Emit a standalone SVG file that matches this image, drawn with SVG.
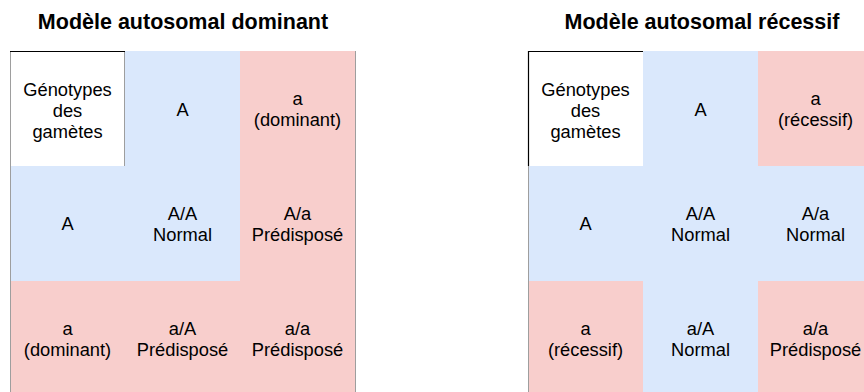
<svg xmlns="http://www.w3.org/2000/svg" width="864" height="392" viewBox="0 0 864 392">
  <style>
    .title { font-family: "Liberation Sans", Arial, sans-serif; font-size: 21.5px; font-weight: bold; fill: #000; text-anchor: middle; }
    .lbl { font-family: "Liberation Sans", Arial, sans-serif; font-size: 18.3px; fill: #000; text-anchor: middle; }
    .blue { fill: #dae8fc; }
    .pink { fill: #f8cecc; }
    .head { fill: #ffffff; }
    .edge { fill: none; stroke: #9e9e9e; stroke-width: 1; }
    .dark { fill: none; stroke: #000; stroke-width: 1.2; }
  </style>
  <rect width="864" height="392" fill="#ffffff"/>

  <!-- Dominant model -->
  <text class="title" x="183" y="29">Modèle autosomal dominant</text>
  <g id="dom-grid">
    <g id="dom-head">
      <rect class="head" x="10" y="51" width="115" height="115"/>
      <text class="lbl" x="67.5" y="96">Génotypes</text>
      <text class="lbl" x="67.5" y="117">des</text>
      <text class="lbl" x="67.5" y="138">gamètes</text>
    </g>
    <g id="dom-col-A">
      <rect class="blue" x="125" y="51" width="115" height="115"/>
      <text class="lbl" x="182.5" y="116">A</text>
    </g>
    <g id="dom-col-a">
      <rect class="pink" x="240" y="51" width="115" height="115"/>
      <text class="lbl" x="297.5" y="105">a</text>
      <text class="lbl" x="297.5" y="126">(dominant)</text>
    </g>
    <g id="dom-row-A">
      <rect class="blue" x="10" y="166" width="115" height="115"/>
      <text class="lbl" x="67.5" y="230">A</text>
    </g>
    <g id="dom-AA">
      <rect class="blue" x="125" y="166" width="115" height="115"/>
      <text class="lbl" x="182.5" y="220">A/A</text>
      <text class="lbl" x="182.5" y="241">Normal</text>
    </g>
    <g id="dom-Aa">
      <rect class="pink" x="240" y="166" width="115" height="115"/>
      <text class="lbl" x="297.5" y="220">A/a</text>
      <text class="lbl" x="297.5" y="241">Prédisposé</text>
    </g>
    <g id="dom-row-a">
      <rect class="pink" x="10" y="281" width="115" height="115"/>
      <text class="lbl" x="67.5" y="335">a</text>
      <text class="lbl" x="67.5" y="356">(dominant)</text>
    </g>
    <g id="dom-aA">
      <rect class="pink" x="125" y="281" width="115" height="115"/>
      <text class="lbl" x="182.5" y="335">a/A</text>
      <text class="lbl" x="182.5" y="356">Prédisposé</text>
    </g>
    <g id="dom-aa">
      <rect class="pink" x="240" y="281" width="115" height="115"/>
      <text class="lbl" x="297.5" y="335">a/a</text>
      <text class="lbl" x="297.5" y="356">Prédisposé</text>
    </g>
    <!-- frame -->
    <path class="edge" d="M10.5 51 V396 M355.5 51 V396 M124.5 51.5 V166"/>
    <path class="dark" d="M10 51.5 H125"/>
  </g>

  <!-- Recessive model -->
  <text class="title" x="702" y="29">Modèle autosomal récessif</text>
  <g id="rec-grid">
    <g id="rec-head">
      <rect class="head" x="528" y="51" width="115" height="115"/>
      <text class="lbl" x="585.5" y="96">Génotypes</text>
      <text class="lbl" x="585.5" y="117">des</text>
      <text class="lbl" x="585.5" y="138">gamètes</text>
    </g>
    <g id="rec-col-A">
      <rect class="blue" x="643" y="51" width="115" height="115"/>
      <text class="lbl" x="700.5" y="116">A</text>
    </g>
    <g id="rec-col-a">
      <rect class="pink" x="758" y="51" width="115" height="115"/>
      <text class="lbl" x="815.5" y="105">a</text>
      <text class="lbl" x="815.5" y="126">(récessif)</text>
    </g>
    <g id="rec-row-A">
      <rect class="blue" x="528" y="166" width="115" height="115"/>
      <text class="lbl" x="585.5" y="230">A</text>
    </g>
    <g id="rec-AA">
      <rect class="blue" x="643" y="166" width="115" height="115"/>
      <text class="lbl" x="700.5" y="220">A/A</text>
      <text class="lbl" x="700.5" y="241">Normal</text>
    </g>
    <g id="rec-Aa">
      <rect class="blue" x="758" y="166" width="115" height="115"/>
      <text class="lbl" x="815.5" y="220">A/a</text>
      <text class="lbl" x="815.5" y="241">Normal</text>
    </g>
    <g id="rec-row-a">
      <rect class="pink" x="528" y="281" width="115" height="115"/>
      <text class="lbl" x="585.5" y="335">a</text>
      <text class="lbl" x="585.5" y="356">(récessif)</text>
    </g>
    <g id="rec-aA">
      <rect class="blue" x="643" y="281" width="115" height="115"/>
      <text class="lbl" x="700.5" y="335">a/A</text>
      <text class="lbl" x="700.5" y="356">Normal</text>
    </g>
    <g id="rec-aa">
      <rect class="pink" x="758" y="281" width="115" height="115"/>
      <text class="lbl" x="815.5" y="335">a/a</text>
      <text class="lbl" x="815.5" y="356">Prédisposé</text>
    </g>
    <!-- frame -->
    <path class="edge" d="M528.5 166 V396"/>
    <path class="dark" d="M528.5 51 V166 M528 51.5 H643"/>
  </g>
</svg>
